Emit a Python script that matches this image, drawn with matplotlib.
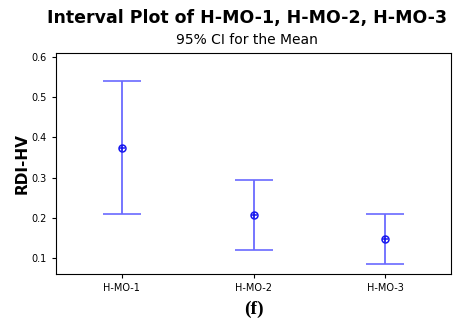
import numpy as np
import matplotlib.pyplot as plt

# interval plot: mean with 95% CI for three samples
groups = ['H-MO-1', 'H-MO-2', 'H-MO-3']
means = [0.374, 0.208, 0.147]
ci_low = [0.209, 0.120, 0.085]
ci_high = [0.540, 0.295, 0.209]

fig = plt.figure(figsize=(4.57, 3.29), dpi=100)
ax = fig.add_axes([56/457, 1 - 274/329, 395/457, 221/329])

x = np.arange(1, len(groups) + 1)
means = np.array(means)
err = [means - np.array(ci_low), np.array(ci_high) - means]

_, caps, bars = ax.errorbar(x, means, yerr=err, fmt='none', ecolor='#6a6aff',
                            elinewidth=1.3, capsize=14, capthick=1.2)
for c in caps:
    c.set_color('#3535ff')
ax.plot(x, means, 'o', ms=5, mfc='none', mec='#1818ee', mew=1.1)
ax.plot(x, means, '+', ms=5, color='#1818ee', mew=1.1)

ax.set_xlim(0.5, 3.5)
ax.set_ylim(0.06, 0.61)
ax.set_xticks(x)
ax.set_xticklabels(groups)
ax.set_yticks([0.1, 0.2, 0.3, 0.4, 0.5, 0.6])
ax.set_yticklabels(['0.1', '0.2', '0.3', '0.4', '0.5', '0.6'])
ax.tick_params(labelsize=7, length=3, width=0.8)
for s in ax.spines.values():
    s.set_linewidth(0.8)

ax.set_ylabel('RDI-HV', fontsize=11, fontweight='bold')
ax.yaxis.set_label_coords(-0.068, 0.5)

fig.text(0.54, 0.945, 'Interval Plot of H-MO-1, H-MO-2, H-MO-3', ha='center',
         va='center', fontsize=12.5, fontweight='bold')
fig.text(0.54, 0.878, '95% CI for the Mean', ha='center', va='center', fontsize=10)
fig.text(0.555, 0.06, '(f)', ha='center', va='center', fontsize=14,
         fontweight='bold', family='Liberation Serif')

fig.savefig('out.png', dpi=100)
